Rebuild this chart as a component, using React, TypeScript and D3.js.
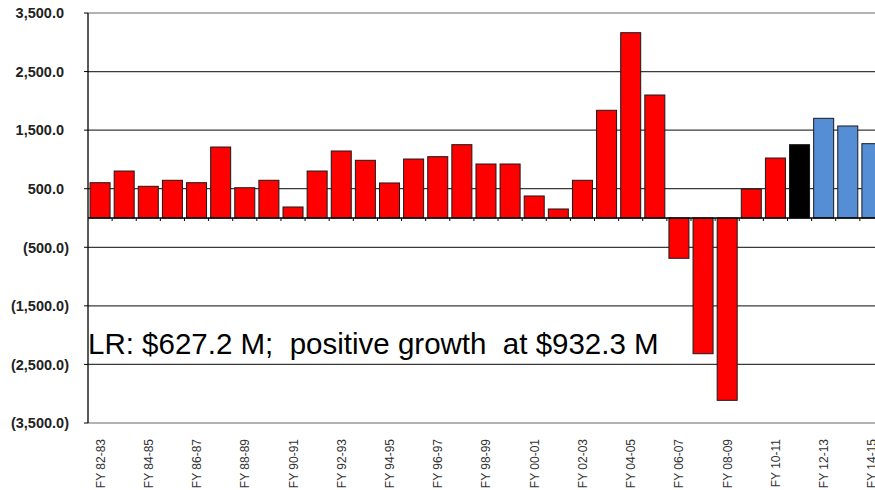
import React from 'react';
import * as d3 from 'd3';

const categories = [
  'FY 82-83', 'FY 83-84', 'FY 84-85', 'FY 85-86', 'FY 86-87', 'FY 87-88', 'FY 88-89', 'FY 89-90',
  'FY 90-91', 'FY 91-92', 'FY 92-93', 'FY 93-94', 'FY 94-95', 'FY 95-96', 'FY 96-97', 'FY 97-98',
  'FY 98-99', 'FY 99-00', 'FY 00-01', 'FY 01-02', 'FY 02-03', 'FY 03-04', 'FY 04-05', 'FY 05-06',
  'FY 06-07', 'FY 07-08', 'FY 08-09', 'FY 09-10', 'FY 10-11', 'FY 11-12', 'FY 12-13', 'FY 13-14',
  'FY 14-15',
];

const values = [
  603, 802, 541, 644, 603, 1212, 517, 644,
  188, 802, 1144, 985, 598, 1007, 1047, 1252,
  922, 922, 376, 154, 644, 1839, 3164, 2100,
  -688, -2317, -3113, 495, 1024, 1252, 1702, 1571,
  1269,
];

// 'actual' = historical, 'current' = current year, 'projected' = forecast
const kinds = [
  'actual', 'actual', 'actual', 'actual', 'actual', 'actual', 'actual', 'actual',
  'actual', 'actual', 'actual', 'actual', 'actual', 'actual', 'actual', 'actual',
  'actual', 'actual', 'actual', 'actual', 'actual', 'actual', 'actual', 'actual',
  'actual', 'actual', 'actual', 'actual', 'actual', 'current', 'projected', 'projected',
  'projected',
];

const yTicks = [3500, 2500, 1500, 500, -500, -1500, -2500, -3500];

const annotation = 'LR: $627.2 M;  positive growth  at $932.3 M';

const colorFor: Record<string, string> = {
  actual: '#FF0000',
  current: '#000000',
  projected: '#558ED5',
};

const W = 875;
const H = 490;
const left = 88;
const step = 24.12;

export default function App() {
  const x = d3
    .scaleBand<string>()
    .domain(categories)
    .range([left, left + categories.length * step])
    .paddingInner(0.17)
    .paddingOuter(0.085);
  const y = d3.scaleLinear().domain([-3500, 3500]).range([423, 13]);
  const fmt = d3.format(',.1f');
  const label = (v: number) => (v < 0 ? `(${fmt(-v)})` : fmt(v));
  const y0 = y(0);

  return (
    <svg
      width={W}
      height={H}
      style={{ position: 'absolute', left: 0, top: 0, background: '#fff' }}
      fontFamily="Arial, 'Liberation Sans', sans-serif"
    >
      <rect x={0} y={0} width={W} height={H} fill="#fff" />
      {/* gridlines */}
      {yTicks.map((t, i) => {
        const edge = i === 0 || i === yTicks.length - 1;
        return (
          <line
            key={t}
            x1={left}
            x2={W}
            y1={y(t)}
            y2={y(t)}
            stroke={edge ? '#9a9a9a' : '#3a3a3a'}
            strokeWidth={1.3}
          />
        );
      })}
      {/* y axis ticks and labels */}
      {yTicks.map((t) => (
        <g key={'l' + t}>
          <line x1={left - 4} x2={left} y1={y(t)} y2={y(t)} stroke="#000" strokeWidth={1} />
          <text
            x={t < 0 ? 69 : 64}
            y={y(t)}
            dy="0.36em"
            textAnchor="end"
            fontSize={14.5}
            fontWeight="bold"
            fill="#222"
          >
            {label(t)}
          </text>
        </g>
      ))}
      {/* bars */}
      {categories.map((c, i) => {
        const v = values[i];
        const top = Math.min(y(v), y0);
        const h = Math.abs(y(v) - y0);
        return (
          <rect
            key={c}
            x={x(c)}
            y={top}
            width={x.bandwidth()}
            height={h}
            fill={colorFor[kinds[i]]}
            stroke="#1a1a1a"
            strokeWidth={1}
          />
        );
      })}
      {/* zero axis line and category ticks */}
      <line x1={left} x2={W} y1={y0} y2={y0} stroke="#000" strokeWidth={1.3} />
      {categories.map((c, i) => {
        const bx = left + (i + 1) * x.step();
        return <line key={'t' + c} x1={bx} x2={bx} y1={y0} y2={y0 + 3} stroke="#000" strokeWidth={1} />;
      })}
      <line x1={left} x2={left} y1={y(3500)} y2={y(-3500)} stroke="#000" strokeWidth={1.3} />
      {/* x labels */}
      {categories.map((c, i) =>
        i % 2 === 0 ? (
          <text
            key={'x' + c}
            transform={`translate(${(x(c) ?? 0) + x.bandwidth() / 2 + 4.5},439) rotate(-90)`}
            textAnchor="end"
            fontSize={12}
            fill="#333"
          >
            {c}
          </text>
        ) : null
      )}
      {/* annotation */}
      <text x={88} y={354} fontSize={29.5} fill="#000" style={{ whiteSpace: 'pre' }} xmlSpace="preserve">
        {annotation}
      </text>
    </svg>
  );
}
